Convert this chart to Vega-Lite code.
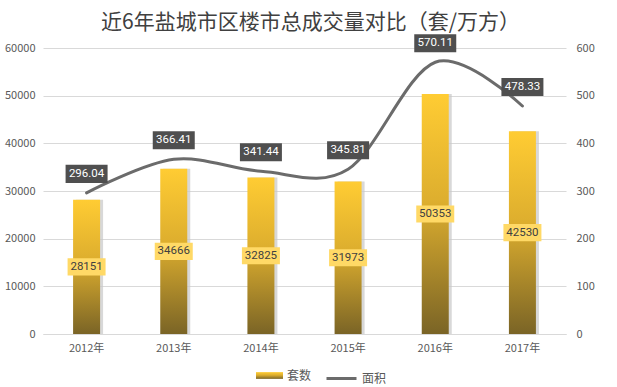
{
  "$schema": "https://vega.github.io/schema/vega-lite/v6.json",
  "width": 523,
  "height": 286,
  "autosize": {"type": "none"},
  "padding": {"left": 43, "top": 48, "right": 51, "bottom": 53},
  "background": "white",
  "title": {
    "text": "近6年盐城市区楼市总成交量对比（套/万方）",
    "font": "Noto Sans CJK SC",
    "fontSize": 21,
    "fontWeight": "normal",
    "color": "#404040",
    "anchor": "middle",
    "baseline": "bottom",
    "offset": 4,
    "dy": 24,
    "dx": 6
  },
  "data": {
    "values": [
      {"year": "2012年", "units": 28151, "area": 296.04},
      {"year": "2013年", "units": 34666, "area": 366.41},
      {"year": "2014年", "units": 32825, "area": 341.44},
      {"year": "2015年", "units": 31973, "area": 345.81},
      {"year": "2016年", "units": 50353, "area": 570.11},
      {"year": "2017年", "units": 42530, "area": 478.33}
    ]
  },
  "config": {
    "view": {"stroke": null},
    "font": "Roboto",
    "axis": {
      "labelFont": "Noto Sans CJK SC",
      "labelFontSize": 11,
      "labelColor": "#595959",
      "ticks": false,
      "domain": false,
      "title": null,
      "gridColor": "#D9D9D9",
      "gridWidth": 1
    }
  },
  "encoding": {
    "x": {
      "field": "year",
      "type": "ordinal",
      "scale": {"paddingInner": 0, "paddingOuter": 0},
      "axis": {"labelAngle": 0, "domain": true, "domainColor": "#D9D9D9", "labelPadding": 8, "grid": false}
    }
  },
  "layer": [
    {
      "encoding": {
        "y": {
          "field": "units",
          "type": "quantitative",
          "scale": {"domain": [0, 60000]},
          "axis": {"orient": "left", "values": [0, 10000, 20000, 30000, 40000, 50000, 60000], "labelPadding": 8, "grid": true, "format": "d"}
        }
      },
      "layer": [
        {
          "mark": {"type": "bar", "width": 27, "xOffset": 3, "color": "#C8C8C8", "opacity": 0.7}
        },
        {
          "mark": {
            "type": "bar",
            "width": 27,
            "color": {"gradient": "linear", "x1": 0, "y1": 0, "x2": 0, "y2": 1,
              "stops": [
                {"offset": 0, "color": "#FFCC33"},
                {"offset": 0.45, "color": "#DDAE2E"},
                {"offset": 1, "color": "#7A6426"}
              ]}
          },
          "encoding": {
            "opacity": {
              "datum": "套数",
              "type": "nominal",
              "scale": {"domain": ["套数"], "range": [1]},
              "legend": {
                "orient": "none",
                "legendX": 213,
                "legendY": 314,
                "title": null,
                "symbolType": "M-1,-0.25H1V0.25H-1Z",
                "symbolSize": 729,
                "symbolStrokeWidth": 0,
                "labelFont": "Noto Sans CJK SC",
                "labelFontSize": 12,
                "labelColor": "#595959",
                "encode": {
                  "symbols": {
                    "update": {
                      "fill": {"value": {"gradient": "linear", "x1": 0, "y1": 0, "x2": 0, "y2": 1,
                        "stops": [
                          {"offset": 0, "color": "#FFCC33"},
                          {"offset": 0.5, "color": "#D9AA2C"},
                          {"offset": 1, "color": "#8A7028"}
                        ]}},
                      "stroke": {"value": "transparent"},
                      "opacity": {"value": 1}
                    }
                  }
                }
              }
            }
          }
        }
      ]
    },
    {
      "encoding": {
        "y": {
          "field": "units",
          "type": "quantitative",
          "scale": {"domain": [0, 120000]},
          "axis": null
        }
      },
      "layer": [
        {
          "mark": {"type": "point", "shape": "M-1,-0.45H1V0.45H-1Z", "size": 1444, "filled": true, "color": "#FFD966", "opacity": 1, "strokeWidth": 0}
        },
        {
          "mark": {"type": "text", "fontSize": 11.5, "color": "#404040", "baseline": "middle", "align": "center", "font": "Roboto"},
          "encoding": {"text": {"field": "units", "type": "quantitative", "format": "d"}}
        }
      ]
    },
    {
      "encoding": {
        "y": {
          "field": "area",
          "type": "quantitative",
          "scale": {"domain": [0, 600]},
          "axis": {"orient": "right", "values": [0, 100, 200, 300, 400, 500, 600], "labelPadding": 10, "grid": false}
        }
      },
      "layer": [
        {
          "mark": {"type": "line", "interpolate": "cardinal", "strokeWidth": 3, "strokeCap": "round"},
          "encoding": {
            "stroke": {
              "datum": "面积",
              "type": "nominal",
              "scale": {"domain": ["面积"], "range": ["#6B6B6B"]},
              "legend": {
                "orient": "none",
                "legendX": 282,
                "legendY": 314,
                "title": null,
                "symbolType": "stroke",
                "symbolSize": 900,
                "symbolStrokeWidth": 3,
                "labelFont": "Noto Sans CJK SC",
                "labelFontSize": 12,
                "labelColor": "#595959"
              }
            }
          }
        },
        {
          "mark": {"type": "point", "shape": "M-1,-0.43H1V0.43H-1Z", "size": 1764, "filled": true, "color": "#4F4F4F", "opacity": 1, "strokeWidth": 0, "yOffset": -19}
        },
        {
          "mark": {"type": "text", "fontSize": 11.5, "color": "#FFFFFF", "baseline": "middle", "align": "center", "yOffset": -19, "font": "Roboto"},
          "encoding": {"text": {"field": "area", "type": "quantitative", "format": ".2f"}}
        }
      ]
    }
  ],
  "resolve": {"scale": {"y": "independent"}}
}
